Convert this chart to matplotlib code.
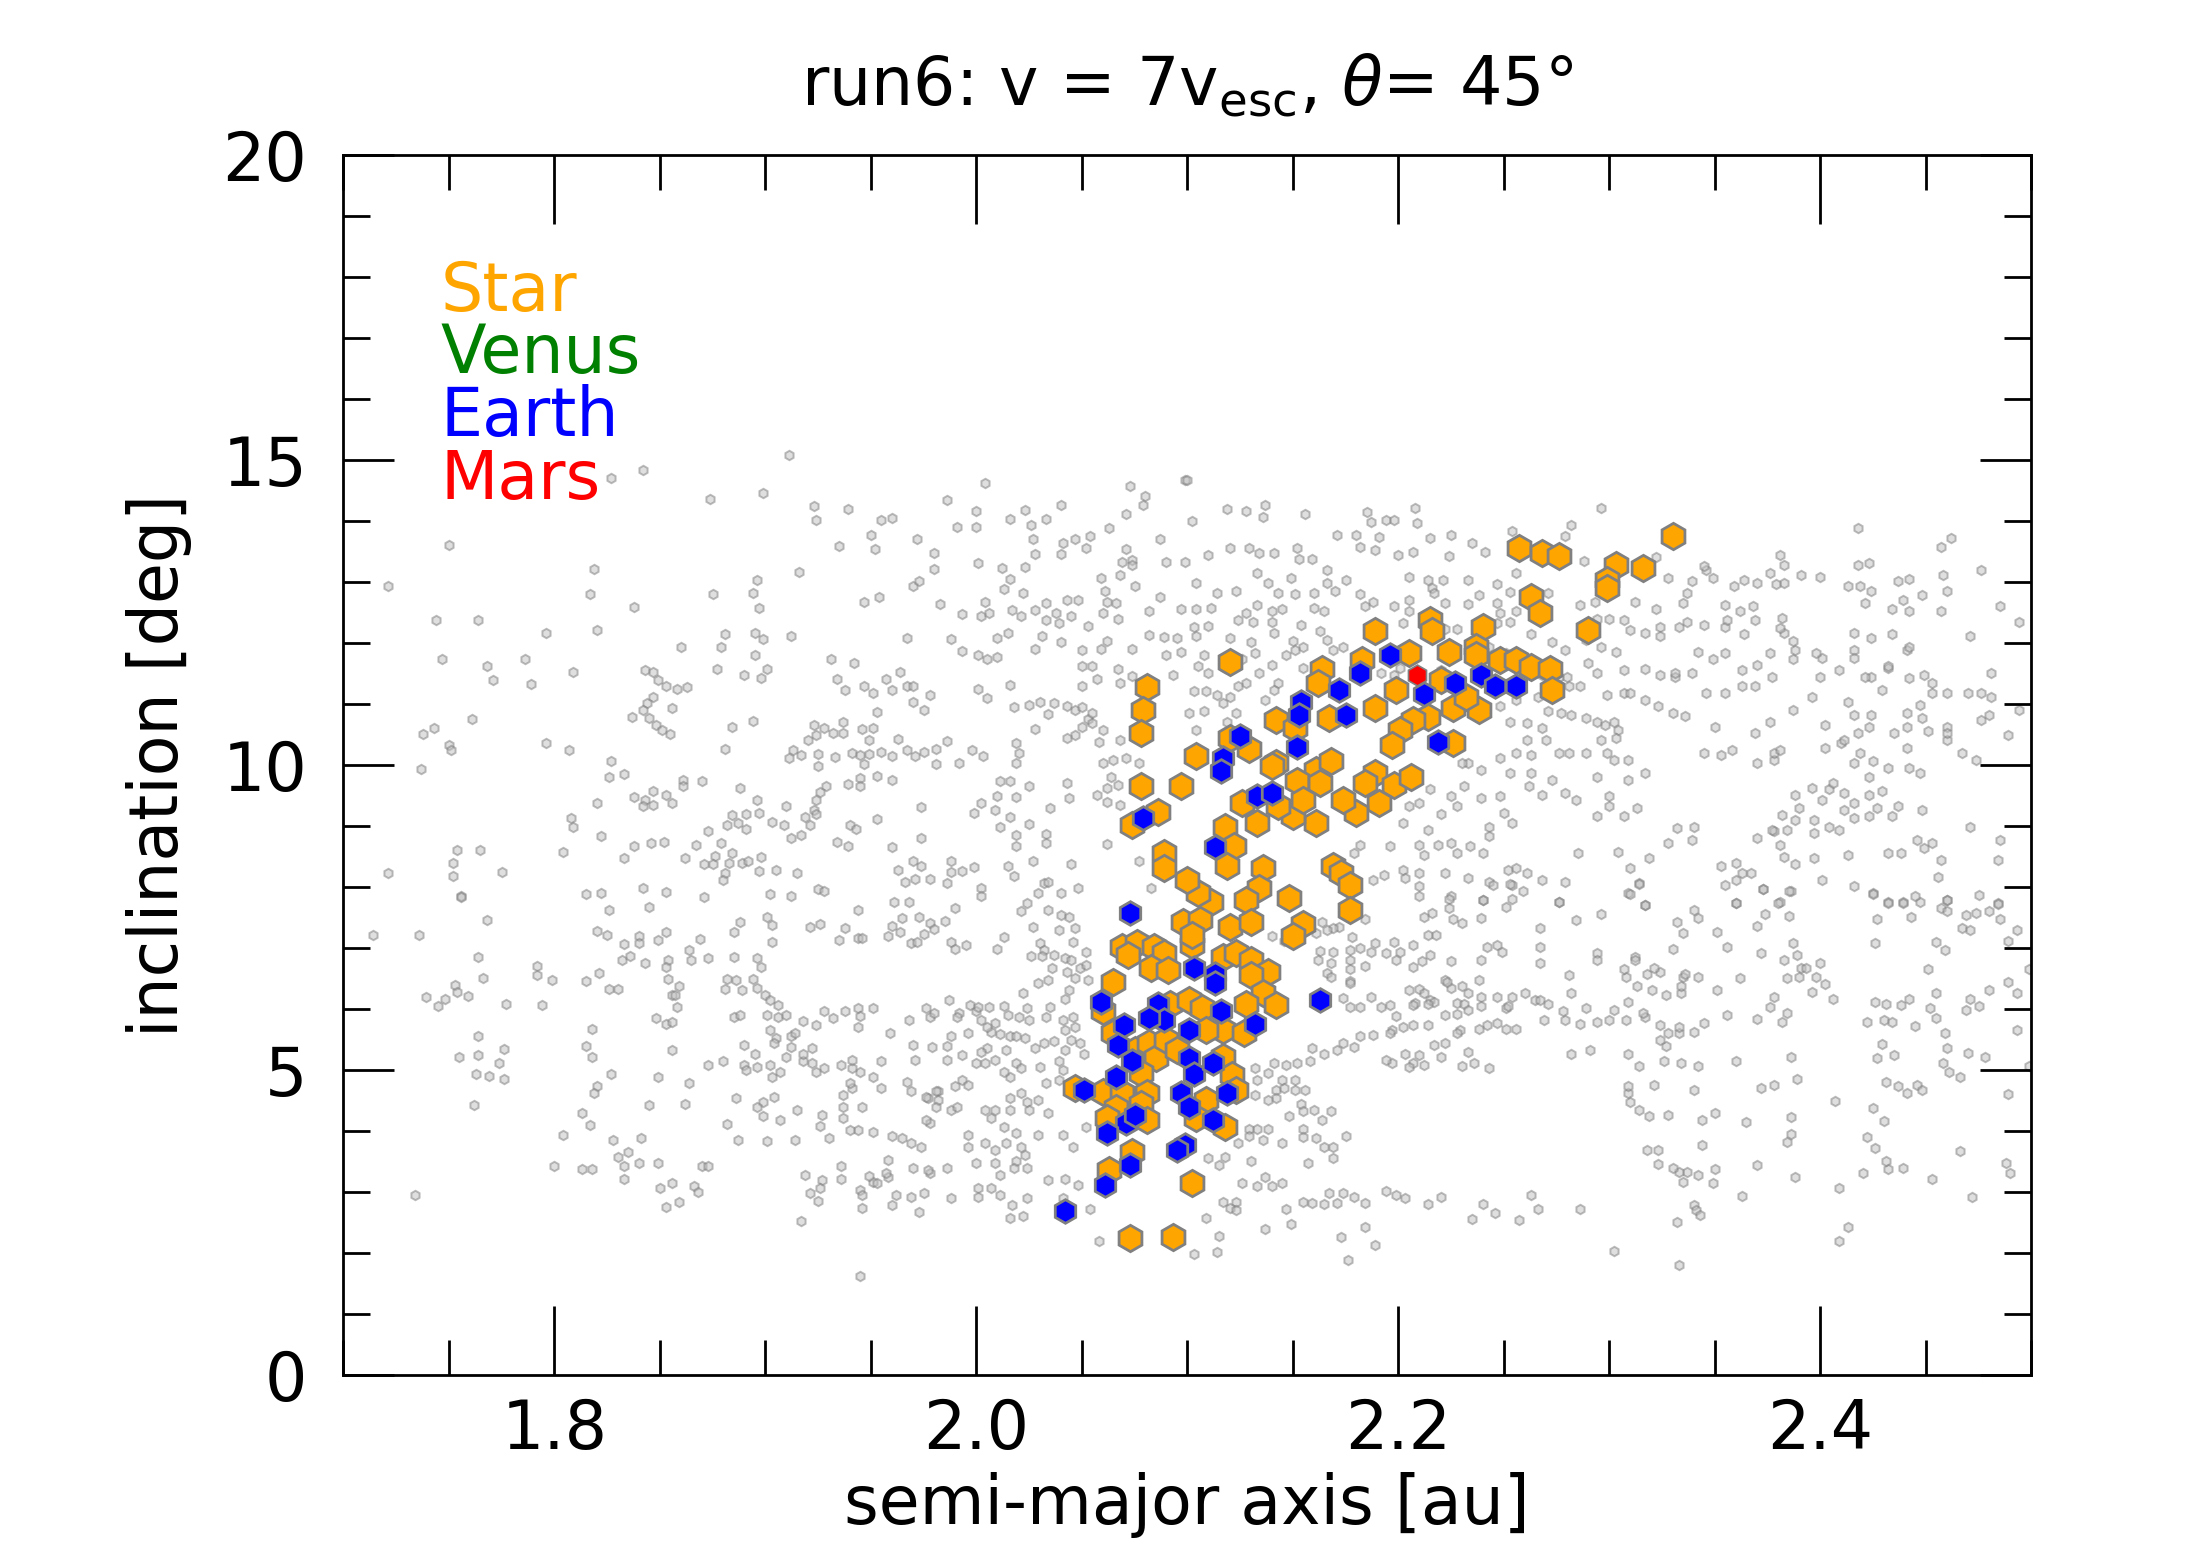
import numpy as np
import matplotlib
matplotlib.use("Agg")
import matplotlib.pyplot as plt
from matplotlib.ticker import MultipleLocator, FormatStrFormatter

# --- hexagon markers: (semi-major axis [au], inclination [deg]) ---
star_pts = [
    (2.257, 13.55), (2.268, 13.47), (2.276, 13.42), (2.303, 13.28), (2.299, 13.03),
    (2.299, 12.90), (2.316, 13.23), (2.330, 13.75), (2.263, 12.76), (2.267, 12.49),
    (2.290, 12.21), (2.189, 12.19), (2.215, 12.38), (2.216, 12.19), (2.240, 12.27),
    (2.224, 11.86), (2.237, 11.94), (2.237, 11.80), (2.248, 11.72), (2.256, 11.72),
    (2.263, 11.61), (2.272, 11.58), (2.273, 11.23), (2.205, 11.83), (2.183, 11.72),
    (2.120, 11.69), (2.164, 11.58), (2.162, 11.34), (2.081, 11.28), (2.079, 10.90),
    (2.078, 10.52), (2.142, 10.74), (2.167, 10.77), (2.189, 10.93), (2.199, 11.23),
    (2.220, 11.39), (2.226, 10.93), (2.238, 10.90), (2.232, 11.12), (2.214, 10.79),
    (2.207, 10.74), (2.201, 10.57), (2.197, 10.33), (2.226, 10.36), (2.120, 10.44),
    (2.129, 10.27), (2.104, 10.14), (2.097, 9.65), (2.142, 10.03), (2.151, 10.60),
    (2.140, 9.98), (2.161, 9.92), (2.168, 10.06), (2.152, 9.73), (2.163, 9.70),
    (2.189, 9.87), (2.198, 9.68), (2.206, 9.81), (2.184, 9.70), (2.078, 9.65),
    (2.191, 9.38), (2.180, 9.21), (2.174, 9.43), (2.161, 9.05), (2.150, 9.16),
    (2.155, 9.43), (2.143, 9.32), (2.133, 9.05), (2.126, 9.38), (2.118, 8.99),
    (2.122, 8.67), (2.119, 8.34), (2.136, 8.31), (2.134, 7.98), (2.169, 8.34),
    (2.173, 8.23), (2.177, 8.04), (2.148, 7.82), (2.128, 7.79), (2.111, 7.76),
    (2.105, 7.90), (2.100, 8.12), (2.074, 9.02), (2.086, 9.23), (2.089, 8.55),
    (2.089, 8.31), (2.098, 7.43), (2.106, 7.46), (2.120, 7.35), (2.130, 7.43),
    (2.102, 7.05), (2.102, 7.21), (2.155, 7.40), (2.150, 7.19), (2.177, 7.62),
    (2.069, 7.02), (2.076, 7.08), (2.072, 6.89), (2.084, 7.02), (2.089, 6.91),
    (2.083, 6.67), (2.091, 6.64), (2.065, 6.45), (2.117, 6.86), (2.123, 6.91),
    (2.130, 6.80), (2.138, 6.61), (2.130, 6.56), (2.136, 6.26), (2.142, 6.07),
    (2.060, 5.96), (2.092, 6.09), (2.101, 6.15), (2.107, 6.01), (2.128, 6.09),
    (2.117, 5.66), (2.127, 5.60), (2.109, 5.66), (2.065, 5.60), (2.075, 5.33),
    (2.082, 5.44), (2.085, 5.19), (2.090, 5.49), (2.095, 5.33), (2.047, 4.70),
    (2.060, 4.64), (2.069, 4.62), (2.078, 4.95), (2.081, 4.62), (2.117, 5.22),
    (2.121, 4.92), (2.123, 4.67), (2.109, 4.51), (2.078, 4.45), (2.066, 4.37),
    (2.062, 4.21), (2.081, 4.18), (2.104, 4.21), (2.118, 4.07), (2.074, 3.66),
    (2.063, 3.36), (2.102, 3.14), (2.073, 2.24), (2.093, 2.26),
]

earth_pts = [
    (2.196, 11.81), (2.182, 11.51), (2.172, 11.23), (2.154, 11.04), (2.153, 10.82),
    (2.175, 10.82), (2.212, 11.17), (2.227, 11.34), (2.239, 11.48), (2.246, 11.29),
    (2.256, 11.29), (2.125, 10.47), (2.152, 10.30), (2.117, 10.11), (2.116, 9.90),
    (2.219, 10.37), (2.133, 9.49), (2.140, 9.54), (2.079, 9.13), (2.113, 8.66),
    (2.073, 7.57), (2.103, 6.67), (2.113, 6.58), (2.113, 6.43), (2.163, 6.15),
    (2.059, 6.12), (2.086, 6.09), (2.089, 5.82), (2.082, 5.85), (2.116, 5.96),
    (2.132, 5.76), (2.101, 5.66), (2.070, 5.74), (2.067, 5.41), (2.074, 5.14),
    (2.066, 4.89), (2.051, 4.67), (2.101, 5.19), (2.103, 4.94), (2.112, 5.11),
    (2.119, 4.62), (2.097, 4.62), (2.101, 4.40), (2.071, 4.13), (2.075, 4.26),
    (2.062, 3.96), (2.112, 4.18), (2.099, 3.77), (2.095, 3.69), (2.073, 3.44),
    (2.061, 3.12), (2.042, 2.69),
]

mars_pts = [(2.209, 11.47)]

# --- background particles (grey), read region by region ---
bg_upper_left = [
    (1.911, 15.09), (1.842, 14.83), (1.827, 14.71), (2.004, 14.62), (1.874, 14.36),
    (1.899, 14.46), (1.923, 14.25), (1.939, 14.19), (1.924, 14.02), (1.986, 14.35),
    (2.000, 14.17), (2.016, 14.04), (2.023, 14.18), (2.033, 14.03), (2.040, 14.27),
    (1.955, 14.02), (1.960, 14.05), (1.991, 13.91), (2.000, 13.90), (2.026, 13.94),
    (2.073, 14.57), (2.080, 14.41), (2.079, 14.26), (2.071, 14.11), (2.063, 13.88),
    (2.087, 13.71), (2.099, 14.68), (1.750, 13.60), (1.935, 13.59), (1.950, 13.77),
    (1.952, 13.54), (1.972, 13.71), (1.980, 13.47), (2.027, 13.71), (2.028, 13.46),
    (2.041, 13.64), (2.047, 13.70), (2.054, 13.75), (2.052, 13.56), (2.040, 13.46),
    (2.071, 13.54), (2.069, 13.33), (2.074, 13.36), (2.074, 13.28), (2.090, 13.33),
    (2.099, 13.33), (1.819, 13.21), (1.721, 12.93), (1.817, 12.81), (1.838, 12.59),
    (1.875, 12.81), (1.896, 13.04), (1.894, 12.82), (1.897, 12.57), (1.916, 13.17),
    (1.947, 12.67), (1.954, 12.75), (1.970, 12.93), (1.973, 13.01), (1.980, 13.22),
    (2.001, 13.32), (2.012, 13.23), (2.023, 13.24), (2.016, 13.05), (2.013, 12.88),
    (2.022, 12.82), (1.983, 12.64), (2.004, 12.68), (1.993, 12.48), (2.002, 12.45),
    (2.006, 12.50), (2.017, 12.54), (2.021, 12.44), (2.028, 12.54), (2.033, 12.65),
    (2.043, 12.71), (2.048, 12.70), (2.038, 12.50), (2.045, 12.45), (2.033, 12.38),
    (2.039, 12.33), (2.059, 13.07), (2.061, 12.86), (2.068, 13.12), (2.075, 12.93),
    (2.062, 12.67), (2.066, 12.66), (2.060, 12.50), (2.067, 12.39), (2.053, 12.28),
    (2.082, 12.52), (2.087, 12.76), (2.097, 12.55), (1.744, 12.38), (1.764, 12.37),
    (1.796, 12.17), (1.820, 12.21), (1.747, 11.73), (1.768, 11.63), (1.771, 11.39),
    (1.786, 11.73), (1.789, 11.32), (1.809, 11.52), (1.860, 11.94), (1.879, 11.94),
    (1.881, 12.14), (1.895, 12.16), (1.899, 12.07), (1.895, 11.81), (1.912, 12.12),
    (1.843, 11.56), (1.847, 11.53), (1.849, 11.40), (1.853, 11.29), (1.858, 11.25),
    (1.863, 11.28), (1.877, 11.57), (1.890, 11.48), (1.898, 11.42), (1.901, 11.57),
    (1.931, 11.73), (1.942, 11.68), (1.967, 12.09), (1.988, 12.07), (1.993, 11.87),
    (2.001, 11.81), (2.005, 11.73), (2.010, 11.77), (2.010, 12.08), (2.015, 12.16),
    (2.031, 12.11), (2.040, 12.01), (2.028, 11.91), (2.050, 11.88), (2.055, 11.62),
    (2.062, 12.04), (2.059, 11.90), (2.074, 11.91), (2.082, 12.13), (2.089, 12.10),
    (2.095, 12.08), (2.090, 11.81), (2.097, 11.85), (2.050, 11.62), (2.067, 11.57),
    (2.074, 11.46), (2.057, 11.41), (2.068, 11.35), (2.050, 11.29), (2.093, 11.48),
    (1.934, 11.41), (1.938, 11.23), (1.947, 11.30), (1.951, 11.18), (1.957, 11.41),
    (1.964, 11.53), (1.960, 11.23), (1.967, 11.29), (1.970, 11.29), (1.978, 11.14),
    (1.970, 11.03), (2.001, 11.24), (2.016, 11.31), (2.005, 11.10), (1.975, 10.91),
    (1.953, 10.87), (1.847, 11.12), (1.844, 11.01), (1.856, 10.93), (1.842, 10.90),
    (1.837, 10.79), (1.845, 10.77), (1.848, 10.66), (1.851, 10.57), (1.855, 10.51),
    (1.761, 10.75), (1.738, 10.51), (1.743, 10.61), (1.750, 10.33), (1.751, 10.25),
    (1.737, 9.93), (1.796, 10.36), (1.807, 10.24), (1.827, 10.07), (1.826, 9.81),
    (1.833, 9.85), (1.884, 10.63), (1.894, 10.72), (1.881, 10.26), (1.913, 10.25),
    (1.911, 10.11), (1.917, 10.16), (1.923, 10.65), (1.924, 10.50), (1.920, 10.41),
    (1.928, 10.61), (1.932, 10.52), (1.937, 10.52), (1.937, 10.71), (1.946, 10.59),
    (1.951, 10.61), (1.949, 10.41), (1.925, 10.18), (1.925, 9.98), (1.933, 10.13),
    (1.941, 10.20), (1.945, 10.17), (1.947, 10.01), (1.949, 10.18), (1.955, 10.21),
    (1.960, 10.14), (1.967, 10.25), (1.971, 10.14), (1.975, 10.22), (1.981, 10.26),
    (1.986, 10.40), (1.981, 10.01), (1.992, 10.03), (1.998, 10.25), (2.003, 10.14),
    (1.963, 10.42), (2.019, 10.36), (2.020, 10.19), (2.019, 10.03), (2.028, 10.59),
    (2.018, 10.95), (2.025, 10.99), (2.030, 11.04), (2.034, 10.83), (2.037, 11.01),
    (2.043, 10.96), (2.047, 10.91), (2.050, 10.95), (2.053, 10.75), (2.055, 10.85),
    (2.055, 10.69), (2.050, 10.63), (2.047, 10.50), (2.043, 10.44), (2.060, 10.57),
    (2.058, 10.37), (2.068, 10.41), (2.060, 10.03), (2.065, 10.08), (2.071, 10.11),
    (2.077, 10.03), (2.064, 9.81), (2.062, 9.62), (2.067, 9.68), (2.057, 9.51),
    (2.062, 9.39), (2.068, 9.35), (2.043, 9.71), (2.044, 9.46), (2.025, 9.66),
    (2.011, 9.73), (2.016, 9.73), (2.010, 9.50), (2.019, 9.47), (2.002, 9.37),
    (1.999, 9.21), (2.009, 9.26), (2.016, 9.14), (2.025, 9.03), (2.035, 9.29),
    (2.011, 8.99), (2.019, 8.86), (2.033, 8.87), (2.019, 8.68), (2.033, 8.72),
    (1.974, 9.31), (1.953, 9.11), (1.974, 8.81), (1.960, 8.65), (1.939, 9.69),
    (1.945, 9.79), (1.953, 9.82), (1.960, 9.75), (1.945, 9.65), (1.929, 9.66),
    (1.926, 9.55), (1.924, 9.43), (1.923, 9.27), (1.924, 9.19), (1.919, 9.14),
    (1.921, 9.02), (1.917, 8.86), (1.912, 8.81), (1.910, 9.32), (1.896, 9.42),
    (1.897, 9.21), (1.891, 9.19), (1.884, 9.18), (1.887, 9.05), (1.882, 9.01),
    (1.891, 8.95), (1.903, 9.06), (1.909, 9.01), (1.888, 9.62), (1.870, 9.74),
    (1.861, 9.76), (1.861, 9.65), (1.847, 9.58), (1.838, 9.47), (1.843, 9.43),
    (1.842, 9.32), (1.847, 9.35), (1.853, 9.51), (1.856, 9.38), (1.820, 9.38),
    (1.808, 9.13), (1.809, 8.98), (1.822, 8.84), (1.838, 8.68), (1.846, 8.72),
    (1.852, 8.73), (1.867, 8.69), (1.873, 8.92), (1.879, 8.72), (1.876, 8.51),
    (1.884, 8.55), (1.883, 8.39), (1.889, 8.39), (1.892, 8.42), (1.898, 8.50),
    (1.871, 8.37), (1.875, 8.37), (1.862, 8.47), (1.833, 8.47), (1.804, 8.57),
    (1.754, 8.60), (1.765, 8.61), (1.752, 8.39), (1.752, 8.18), (1.721, 8.23),
    (1.775, 8.24), (1.756, 7.85), (1.881, 8.23), (1.880, 8.12), (1.897, 8.27),
    (1.905, 8.28), (1.915, 8.23), (1.934, 8.73), (1.939, 8.67), (1.940, 9.01),
    (1.943, 8.95), (1.970, 8.42), (1.974, 8.35), (1.963, 8.28), (1.966, 8.09),
    (1.971, 8.13), (1.978, 8.13), (1.988, 8.42), (1.988, 8.24), (1.993, 8.26),
    (1.999, 8.32), (1.986, 8.07), (2.015, 8.35), (2.018, 8.18), (2.027, 8.42),
    (2.002, 7.98), (2.032, 8.07), (2.034, 8.09), (2.045, 8.37), (2.048, 7.99),
    (2.040, 7.90), (2.029, 7.90), (2.002, 7.85), (1.961, 7.76), (1.968, 7.76),
    (1.925, 7.96), (1.928, 7.93), (1.912, 7.85), (1.902, 7.88), (1.871, 7.84),
    (1.853, 7.91), (1.842, 7.98), (1.822, 7.90), (1.815, 7.88), (2.062, 8.71),
    (2.077, 8.42), (2.083, 7.99),
]

bg_upper_right = [
    (2.100, 14.68), (2.119, 14.20), (2.128, 14.17), (2.137, 14.26), (2.136, 14.06),
    (2.156, 14.12), (2.185, 14.15), (2.208, 14.22), (2.296, 14.21), (2.102, 14.00),
    (2.187, 13.98), (2.194, 14.01), (2.198, 14.01), (2.209, 13.97), (2.171, 13.77),
    (2.180, 13.77), (2.191, 13.74), (2.215, 13.72), (2.225, 13.77), (2.235, 13.64),
    (2.254, 13.83), (2.282, 13.94), (2.279, 13.76), (2.120, 13.55), (2.129, 13.55),
    (2.134, 13.47), (2.141, 13.47), (2.152, 13.56), (2.159, 13.38), (2.153, 13.38),
    (2.182, 13.58), (2.189, 13.53), (2.200, 13.45), (2.207, 13.49), (2.224, 13.42),
    (2.241, 13.50), (2.110, 13.44), (2.288, 13.35), (2.322, 13.41), (2.133, 13.15),
    (2.149, 13.06), (2.166, 13.19), (2.175, 13.04), (2.205, 13.09), (2.214, 13.03),
    (2.221, 13.04), (2.233, 13.04), (2.256, 13.14), (2.104, 12.98), (2.114, 12.82),
    (2.123, 12.85), (2.138, 12.98), (2.143, 12.82), (2.151, 12.80), (2.160, 12.82),
    (2.166, 12.98), (2.170, 12.86), (2.182, 12.81), (2.188, 12.67), (2.198, 12.61),
    (2.205, 12.71), (2.216, 12.90), (2.217, 12.82), (2.222, 12.65), (2.238, 12.79),
    (2.247, 12.96), (2.247, 12.65), (2.253, 12.83), (2.271, 12.82), (2.104, 12.55),
    (2.111, 12.57), (2.128, 12.50), (2.133, 12.63), (2.140, 12.52), (2.145, 12.55),
    (2.160, 12.57), (2.165, 12.52), (2.184, 12.60), (2.205, 12.52), (2.233, 12.64),
    (2.248, 12.49), (2.256, 12.52), (2.103, 12.27), (2.110, 12.28), (2.124, 12.38),
    (2.131, 12.35), (2.140, 12.34), (2.154, 12.30), (2.163, 12.19), (2.202, 12.32),
    (2.222, 12.23), (2.228, 12.23), (2.247, 12.33), (2.253, 12.35), (2.294, 12.39),
    (2.300, 12.39), (2.307, 12.38), (2.310, 12.22), (2.317, 12.16), (2.324, 12.26),
    (2.286, 12.63), (2.293, 12.68), (2.312, 12.68), (2.322, 12.55), (2.104, 12.11),
    (2.120, 12.08), (2.130, 12.01), (2.141, 12.16), (2.150, 12.03), (2.155, 11.94),
    (2.166, 12.05), (2.169, 11.89), (2.174, 11.94), (2.243, 11.94), (2.251, 11.83),
    (2.263, 12.14), (2.273, 12.01), (2.279, 11.89), (2.289, 12.05), (2.296, 11.94),
    (2.303, 11.86), (2.108, 11.81), (2.132, 11.83), (2.140, 11.64), (2.147, 11.81),
    (2.151, 11.89), (2.155, 11.59), (2.126, 11.73), (2.105, 11.62), (2.110, 11.51),
    (2.118, 11.59), (2.134, 11.51), (2.143, 11.34), (2.128, 11.34), (2.124, 11.29),
    (2.103, 11.21), (2.109, 11.21), (2.114, 11.15), (2.120, 11.12), (2.117, 11.01),
    (2.123, 10.85), (2.119, 10.71), (2.108, 10.88), (2.101, 10.85), (2.104, 10.58),
    (2.137, 11.07), (2.141, 11.23), (2.192, 11.51), (2.198, 11.48), (2.201, 11.59),
    (2.220, 11.56), (2.268, 11.48), (2.276, 11.45), (2.280, 11.45), (2.281, 11.29),
    (2.286, 11.29), (2.290, 11.67), (2.294, 11.51), (2.299, 11.15), (2.307, 11.18),
    (2.310, 11.18), (2.317, 11.07), (2.324, 11.48), (2.331, 11.45), (2.339, 11.51),
    (2.317, 11.57), (2.307, 11.56), (2.248, 10.96), (2.256, 11.07), (2.266, 11.12),
    (2.271, 10.88), (2.277, 10.85), (2.282, 10.82), (2.289, 10.77), (2.294, 10.71),
    (2.298, 10.66), (2.302, 10.71), (2.304, 10.58), (2.296, 10.41), (2.303, 10.44),
    (2.253, 10.71), (2.261, 10.69), (2.268, 10.61), (2.270, 10.41), (2.261, 10.41),
    (2.263, 10.17), (2.256, 10.19), (2.248, 10.11), (2.239, 9.92), (2.233, 10.03),
    (2.253, 9.87), (2.263, 9.87), (2.273, 9.76), (2.279, 9.54), (2.276, 10.19),
    (2.281, 10.19), (2.289, 10.19), (2.299, 10.19), (2.309, 10.08), (2.302, 10.08),
    (2.294, 9.81), (2.300, 9.49), (2.300, 9.32), (2.309, 9.76), (2.317, 9.87),
    (2.313, 9.29), (2.307, 9.16), (2.294, 9.16), (2.284, 9.43), (2.268, 9.51),
    (2.262, 9.65), (2.248, 9.49), (2.239, 9.46), (2.228, 9.32), (2.220, 9.19),
    (2.225, 9.49), (2.210, 9.38), (2.205, 9.32), (2.215, 9.60), (2.230, 10.03),
    (2.231, 9.65), (2.250, 9.21), (2.243, 8.99), (2.254, 9.05), (2.214, 8.94),
    (2.202, 9.05), (2.196, 8.67), (2.182, 8.69), (2.210, 8.69), (2.219, 8.69),
    (2.225, 8.72), (2.234, 8.67), (2.240, 8.56), (2.243, 8.83), (2.228, 8.56),
    (2.212, 8.53), (2.179, 8.56), (2.193, 8.20), (2.188, 8.12), (2.202, 8.28),
    (2.210, 8.23), (2.222, 8.23), (2.233, 8.15), (2.210, 8.01), (2.203, 8.15),
    (2.243, 8.09), (2.252, 8.28), (2.256, 8.31), (2.261, 8.23), (2.268, 8.12),
    (2.279, 8.09), (2.254, 8.04), (2.259, 7.93), (2.240, 7.79), (2.225, 7.85),
    (2.276, 7.76), (2.285, 8.56), (2.304, 8.58), (2.319, 8.47), (2.332, 8.97),
    (2.339, 8.77), (2.328, 8.72), (2.340, 8.99), (2.310, 8.31), (2.314, 8.06),
    (2.309, 7.90), (2.317, 7.71), (2.353, 8.34), (2.360, 8.39), (2.363, 8.23),
    (2.367, 8.23), (2.360, 8.12), (2.355, 8.04), (2.373, 7.96), (2.383, 8.50),
    (2.388, 8.37), (2.397, 8.47), (2.386, 7.93), (2.381, 7.76), (2.360, 7.74),
    (2.370, 8.80), (2.378, 8.91), (2.384, 8.94), (2.381, 8.69), (2.397, 8.88),
    (2.397, 9.10), (2.404, 8.99), (2.409, 8.94), (2.411, 9.27), (2.416, 9.13),
    (2.423, 9.16), (2.427, 9.29), (2.434, 9.16), (2.437, 9.32), (2.448, 9.27),
    (2.401, 9.43), (2.404, 9.60), (2.406, 9.70), (2.411, 9.54), (2.416, 9.38),
    (2.396, 9.62), (2.423, 9.51), (2.429, 9.57), (2.423, 9.81), (2.416, 10.03),
    (2.425, 10.06), (2.432, 9.95), (2.442, 9.95), (2.447, 9.87), (2.388, 9.51),
    (2.390, 9.29), (2.382, 9.18), (2.388, 9.10), (2.377, 8.94), (2.413, 8.53),
    (2.432, 8.56), (2.438, 8.56), (2.446, 8.77), (2.453, 8.72), (2.457, 8.45),
    (2.449, 8.64), (2.471, 8.99), (2.485, 8.77), (2.484, 8.45), (2.456, 8.17),
    (2.425, 7.90), (2.432, 7.76), (2.439, 7.76), (2.447, 7.76), (2.460, 7.79),
    (2.475, 7.87), (2.484, 7.74), (2.401, 8.12), (2.416, 8.01), (2.345, 10.19),
    (2.353, 10.17), (2.358, 10.25), (2.370, 10.03), (2.378, 10.08), (2.378, 10.19),
    (2.381, 10.25), (2.402, 10.28), (2.410, 10.36), (2.419, 10.19), (2.441, 10.28),
    (2.460, 10.41), (2.467, 10.19), (2.474, 10.08), (2.489, 10.50), (2.476, 10.74),
    (2.480, 10.82), (2.460, 10.63), (2.451, 10.55), (2.441, 10.63), (2.435, 10.52),
    (2.423, 10.63), (2.418, 10.52), (2.411, 10.41), (2.402, 10.66), (2.416, 10.82),
    (2.424, 10.82), (2.441, 10.85), (2.447, 10.99), (2.448, 10.77), (2.460, 10.52),
    (2.369, 10.52), (2.376, 10.71), (2.350, 10.63), (2.336, 10.80), (2.330, 10.85),
    (2.323, 10.96), (2.346, 11.18), (2.355, 11.18), (2.363, 11.29), (2.369, 11.29),
    (2.377, 11.45), (2.387, 10.91), (2.396, 11.12), (2.413, 11.04), (2.429, 11.23),
    (2.424, 11.45), (2.400, 11.45), (2.409, 11.56), (2.421, 11.45), (2.432, 11.59),
    (2.442, 11.42), (2.449, 11.48), (2.453, 11.34), (2.453, 11.18), (2.460, 11.18),
    (2.470, 11.18), (2.476, 11.18), (2.481, 11.12), (2.481, 11.51), (2.494, 10.91),
    (2.441, 11.89), (2.442, 11.94), (2.432, 11.62), (2.416, 11.89), (2.416, 11.75),
    (2.401, 11.75), (2.398, 11.83), (2.387, 11.73), (2.388, 11.89), (2.376, 11.83),
    (2.370, 11.64), (2.363, 11.56), (2.355, 11.83), (2.349, 11.73), (2.342, 11.86),
    (2.331, 11.51), (2.424, 12.08), (2.434, 12.14), (2.416, 12.16), (2.387, 12.03),
    (2.383, 12.16), (2.364, 12.14), (2.355, 12.27), (2.345, 12.30), (2.333, 12.27),
    (2.324, 12.11), (2.337, 12.35), (2.356, 12.38), (2.382, 12.41), (2.381, 12.24),
    (2.471, 12.12), (2.494, 12.35), (2.457, 12.52), (2.442, 12.52), (2.434, 12.55),
    (2.421, 12.65), (2.439, 12.71), (2.424, 12.85), (2.413, 12.94), (2.419, 12.94),
    (2.437, 13.01), (2.442, 13.05), (2.460, 12.85), (2.458, 13.12), (2.476, 13.20),
    (2.418, 13.28), (2.423, 13.32), (2.418, 13.88), (2.462, 13.72), (2.457, 13.58),
    (2.400, 13.09), (2.391, 13.12), (2.383, 12.98), (2.379, 12.96), (2.376, 13.15),
    (2.370, 12.98), (2.364, 13.04), (2.381, 13.45), (2.383, 13.28), (2.359, 12.93),
    (2.349, 13.06), (2.339, 13.01), (2.346, 13.20), (2.345, 13.26), (2.337, 12.82),
    (2.328, 13.06), (2.335, 12.65), (2.355, 12.63), (2.362, 12.52), (2.368, 12.60),
    (2.369, 12.38), (2.448, 12.79), (2.485, 12.60),
]

bg_lower_left = [
    (1.714, 7.21), (1.736, 7.21), (1.756, 7.84), (1.768, 7.46), (1.764, 6.86),
    (1.766, 6.50), (1.753, 6.39), (1.754, 6.28), (1.759, 6.21), (1.739, 6.19),
    (1.745, 6.05), (1.748, 6.16), (1.777, 6.08), (1.792, 6.71), (1.792, 6.55),
    (1.799, 6.48), (1.794, 6.06), (1.815, 6.46), (1.821, 6.59), (1.826, 6.32),
    (1.830, 6.32), (1.826, 7.63), (1.845, 7.67), (1.820, 7.28), (1.825, 7.22),
    (1.840, 7.20), (1.840, 7.08), (1.833, 7.07), (1.849, 7.13), (1.853, 7.27),
    (1.869, 7.14), (1.885, 7.26), (1.888, 7.43), (1.901, 7.51), (1.903, 7.38),
    (1.903, 7.10), (1.832, 6.80), (1.836, 6.87), (1.843, 6.75), (1.854, 6.81),
    (1.853, 6.69), (1.854, 6.49), (1.859, 6.38), (1.864, 6.96), (1.865, 6.81),
    (1.873, 6.83), (1.885, 6.86), (1.896, 6.83), (1.898, 6.69), (1.882, 6.49),
    (1.886, 6.48), (1.889, 6.31), (1.894, 6.49), (1.881, 6.32), (1.896, 6.34),
    (1.900, 6.23), (1.902, 6.15), (1.906, 6.07), (1.856, 6.23), (1.857, 6.23),
    (1.858, 6.03), (1.848, 5.86), (1.853, 5.75), (1.856, 5.79), (1.885, 5.87),
    (1.888, 5.90), (1.901, 5.90), (1.906, 5.87), (1.910, 5.90), (1.902, 5.66),
    (1.905, 5.53), (1.912, 5.56), (1.914, 5.60), (1.918, 5.81), (1.924, 5.74),
    (1.928, 5.96), (1.932, 5.85), (1.938, 5.96), (1.944, 5.71), (1.944, 6.01),
    (1.945, 5.88), (1.951, 6.01), (1.959, 5.61), (1.968, 5.82), (1.978, 5.87),
    (1.980, 5.93), (1.976, 6.01), (1.921, 7.35), (1.926, 7.39), (1.935, 7.13),
    (1.938, 7.32), (1.944, 7.16), (1.946, 7.16), (1.944, 7.62), (1.960, 7.36),
    (1.964, 7.27), (1.958, 7.19), (1.965, 7.50), (1.973, 7.51), (1.975, 7.23),
    (1.978, 7.41), (1.980, 7.31), (1.985, 7.45), (1.969, 7.08), (1.972, 7.10),
    (1.990, 7.65), (1.988, 7.10), (1.990, 6.99), (1.995, 7.05), (2.013, 7.18),
    (2.010, 6.99), (2.034, 7.63), (2.024, 7.74), (2.021, 7.61), (2.027, 7.35),
    (2.030, 7.08), (2.032, 6.97), (2.039, 7.30), (2.046, 7.10), (2.047, 7.32),
    (2.040, 7.54), (2.044, 7.51), (2.026, 6.87), (2.031, 6.87), (2.037, 6.89),
    (2.042, 6.83), (2.052, 6.94), (2.045, 6.80), (2.036, 6.67), (2.043, 6.61),
    (2.049, 6.67), (2.052, 6.72), (2.047, 6.50), (2.053, 6.48), (2.034, 6.48),
    (2.029, 6.42), (2.022, 6.27), (2.044, 6.31), (2.042, 6.17), (2.035, 6.04),
    (2.033, 5.87), (2.041, 5.82), (2.046, 5.87), (2.047, 5.71), (2.042, 5.66),
    (2.045, 5.49), (2.049, 5.44), (2.051, 5.27), (2.042, 5.33), (2.039, 5.14),
    (2.041, 5.00), (2.039, 4.84), (2.033, 4.78), (2.030, 5.05), (2.028, 5.36),
    (2.032, 5.44), (2.037, 5.47), (2.023, 5.52), (2.016, 5.56), (2.011, 5.59),
    (2.007, 5.63), (2.009, 5.77), (2.005, 5.71), (2.002, 5.82), (2.000, 5.96),
    (1.997, 6.07), (1.992, 5.93), (1.991, 5.87), (1.996, 5.60), (1.987, 6.15),
    (2.001, 6.03), (2.006, 6.04), (2.013, 6.05), (2.024, 6.01), (2.015, 5.90),
    (2.020, 5.87), (2.025, 5.82), (2.019, 5.55), (2.014, 5.33), (2.019, 5.12),
    (2.021, 5.03), (2.016, 4.89), (2.013, 4.97), (2.005, 5.36), (2.002, 5.30),
    (1.993, 5.25), (2.000, 5.12), (2.004, 5.11), (2.009, 5.16), (1.986, 5.16),
    (1.993, 4.84), (1.996, 4.75), (1.990, 4.73), (1.982, 4.65), (1.977, 4.54),
    (1.976, 4.56), (1.969, 4.66), (1.967, 4.81), (1.955, 4.70), (1.955, 5.14),
    (1.971, 5.16), (1.979, 5.38), (1.986, 5.39), (1.988, 5.55), (1.970, 5.41),
    (1.981, 4.65), (1.982, 4.51), (1.988, 4.35), (1.991, 4.40), (2.004, 4.35),
    (2.007, 4.21), (2.013, 4.07), (2.009, 4.35), (2.016, 4.54), (2.024, 4.48),
    (2.025, 4.35), (2.016, 4.35), (2.021, 4.62), (2.029, 4.51), (2.034, 4.29),
    (2.029, 3.93), (2.019, 3.97), (2.014, 3.80), (2.021, 3.74), (2.023, 3.61),
    (2.019, 3.50), (2.024, 3.39), (2.018, 3.39), (2.041, 3.93), (2.046, 3.74),
    (2.052, 4.07), (1.996, 3.93), (2.004, 3.80), (2.000, 3.47), (2.009, 3.47),
    (2.011, 3.28), (2.007, 3.06), (2.001, 3.06), (2.001, 2.92), (2.011, 2.95),
    (2.017, 2.79), (2.024, 2.90), (2.034, 3.20), (2.042, 3.22), (2.048, 3.12),
    (2.041, 2.90), (2.016, 2.57), (2.022, 2.60), (2.054, 2.72), (2.058, 2.19),
    (1.986, 3.39), (1.978, 3.31), (1.977, 3.36), (1.970, 3.39), (1.975, 2.99),
    (1.969, 2.92), (1.962, 2.95), (1.960, 2.79), (1.988, 2.90), (1.973, 2.68),
    (1.958, 3.24), (1.957, 3.31), (1.951, 3.17), (1.953, 3.14), (1.949, 3.27),
    (1.945, 3.03), (1.946, 2.95), (1.946, 2.73), (1.936, 3.43), (1.936, 3.21),
    (1.927, 3.20), (1.926, 3.06), (1.921, 2.98), (1.925, 2.86), (1.919, 3.28),
    (1.917, 2.53), (1.945, 1.62), (1.960, 3.91), (1.965, 3.88), (1.969, 3.80),
    (1.974, 3.74), (1.958, 3.52), (1.951, 3.99), (1.944, 4.02), (1.940, 4.02),
    (1.930, 3.88), (1.914, 3.85), (1.901, 3.84), (1.887, 3.86), (1.882, 4.11),
    (1.926, 4.08), (1.927, 4.26), (1.937, 4.21), (1.937, 4.40), (1.946, 4.40),
    (1.937, 4.59), (1.941, 4.70), (1.940, 4.78), (1.951, 4.89), (1.945, 4.97),
    (1.941, 5.03), (1.936, 5.08), (1.941, 5.16), (1.928, 5.03), (1.924, 4.97),
    (1.922, 5.11), (1.918, 5.14), (1.918, 5.27), (1.922, 5.36), (1.910, 5.22),
    (1.907, 4.97), (1.903, 4.89), (1.902, 5.08), (1.896, 5.05), (1.890, 5.08),
    (1.891, 5.00), (1.880, 5.14), (1.873, 5.08), (1.890, 5.41), (1.895, 5.27),
    (1.904, 5.44), (1.912, 5.38), (1.904, 4.56), (1.899, 4.48), (1.896, 4.40),
    (1.899, 4.24), (1.907, 4.18), (1.915, 4.34), (1.886, 4.54), (1.864, 4.78),
    (1.862, 4.44), (1.845, 4.43), (1.849, 4.88), (1.827, 4.93), (1.820, 4.74),
    (1.819, 4.62), (1.813, 4.29), (1.817, 4.10), (1.804, 3.93), (1.828, 3.86),
    (1.841, 3.88), (1.835, 3.65), (1.830, 3.57), (1.833, 3.42), (1.840, 3.47),
    (1.849, 3.47), (1.833, 3.22), (1.813, 3.38), (1.818, 3.38), (1.800, 3.42),
    (1.850, 3.06), (1.856, 3.14), (1.853, 2.76), (1.859, 2.84), (1.866, 3.09),
    (1.868, 3.00), (1.870, 3.42), (1.873, 3.43), (1.762, 4.42), (1.763, 4.93),
    (1.769, 4.90), (1.776, 4.85), (1.774, 5.12), (1.764, 5.25), (1.755, 5.22),
    (1.764, 5.56), (1.776, 5.34), (1.734, 2.95), (1.818, 5.68), (1.815, 5.40),
    (1.818, 5.22), (1.856, 5.33), (1.978, 4.13), (1.976, 4.18), (1.981, 4.40),
    (1.996, 3.74), (2.009, 3.69),
]

bg_lower_right = [
    (2.184, 7.47), (2.164, 7.43), (2.172, 7.35), (2.169, 7.32), (2.166, 7.30),
    (2.161, 7.24), (2.140, 7.19), (2.178, 7.18), (2.146, 7.12), (2.163, 6.95),
    (2.169, 6.94), (2.177, 6.97), (2.182, 7.00), (2.189, 7.08), (2.198, 7.10),
    (2.207, 7.05), (2.194, 6.92), (2.201, 6.94), (2.187, 6.94), (2.162, 6.80),
    (2.168, 6.75), (2.177, 6.80), (2.184, 6.71), (2.199, 6.80), (2.207, 6.69),
    (2.211, 6.78), (2.215, 6.89), (2.225, 6.78), (2.166, 6.59), (2.168, 6.53),
    (2.177, 6.65), (2.177, 6.46), (2.177, 6.42), (2.174, 6.18), (2.177, 6.04),
    (2.182, 6.04), (2.187, 6.19), (2.192, 6.04), (2.196, 6.06), (2.199, 5.89),
    (2.205, 6.31), (2.210, 6.32), (2.212, 6.26), (2.215, 6.15), (2.208, 6.10),
    (2.207, 6.07), (2.222, 6.48), (2.225, 6.34), (2.233, 6.26), (2.239, 6.19),
    (2.239, 6.05), (2.228, 6.10), (2.231, 6.09), (2.217, 6.12), (2.214, 6.09),
    (2.222, 5.90), (2.228, 5.92), (2.233, 5.98), (2.247, 6.19), (2.251, 6.01),
    (2.252, 6.05), (2.254, 6.19), (2.260, 6.26), (2.265, 6.14), (2.267, 6.14),
    (2.271, 6.09), (2.242, 5.74), (2.247, 5.77), (2.251, 5.68), (2.256, 5.68),
    (2.229, 5.66), (2.238, 5.67), (2.228, 5.60), (2.222, 5.45), (2.217, 5.41),
    (2.210, 5.25), (2.207, 5.12), (2.205, 5.05), (2.212, 5.08), (2.220, 5.22),
    (2.233, 5.30), (2.236, 5.11), (2.243, 5.03), (2.230, 5.07), (2.197, 5.11),
    (2.194, 5.16), (2.203, 5.27), (2.202, 5.71), (2.207, 5.74), (2.214, 5.74),
    (2.197, 5.66), (2.196, 5.60), (2.188, 5.57), (2.182, 5.55), (2.179, 5.38),
    (2.174, 5.44), (2.171, 5.33), (2.165, 5.27), (2.159, 5.36), (2.158, 5.14),
    (2.152, 5.12), (2.147, 5.08), (2.141, 5.12), (2.132, 5.03), (2.138, 4.95),
    (2.145, 4.84), (2.151, 4.84), (2.133, 4.84), (2.142, 4.67), (2.146, 4.70),
    (2.151, 4.67), (2.156, 4.67), (2.142, 4.54), (2.138, 4.51), (2.132, 4.59),
    (2.154, 4.45), (2.155, 4.32), (2.160, 4.34), (2.168, 4.32), (2.164, 4.18),
    (2.148, 4.24), (2.133, 4.04), (2.138, 4.04), (2.129, 4.04), (2.136, 3.85),
    (2.129, 3.91), (2.124, 3.80), (2.145, 3.80), (2.155, 4.04), (2.155, 3.90),
    (2.161, 3.88), (2.165, 3.74), (2.169, 3.74), (2.175, 3.91), (2.169, 3.55),
    (2.157, 3.47), (2.130, 3.50), (2.118, 3.58), (2.110, 3.55), (2.115, 3.44),
    (2.126, 3.14), (2.133, 3.09), (2.137, 3.24), (2.140, 3.09), (2.145, 3.15),
    (2.117, 2.84), (2.123, 2.84), (2.120, 2.73), (2.123, 2.70), (2.109, 2.57),
    (2.115, 2.28), (2.114, 2.02), (2.103, 1.99), (2.137, 2.39), (2.147, 2.72),
    (2.149, 2.47), (2.155, 2.84), (2.159, 2.82), (2.165, 2.81), (2.171, 2.82),
    (2.167, 2.98), (2.174, 2.98), (2.179, 2.92), (2.184, 2.82), (2.173, 2.26),
    (2.176, 1.88), (2.184, 2.42), (2.189, 2.13), (2.194, 3.02), (2.199, 2.95),
    (2.203, 2.90), (2.214, 2.80), (2.220, 2.91), (2.235, 2.55), (2.240, 2.80),
    (2.246, 2.65), (2.257, 2.54), (2.263, 2.95), (2.266, 2.72), (2.286, 2.72),
    (2.302, 2.03), (2.332, 2.50), (2.333, 1.80), (2.340, 2.79), (2.341, 2.70),
    (2.343, 2.62), (2.363, 2.94), (2.409, 2.20), (2.413, 2.43), (2.409, 3.06),
    (2.472, 2.92), (2.453, 3.21), (2.432, 3.37), (2.431, 3.50), (2.439, 3.40),
    (2.420, 3.31), (2.488, 3.47), (2.490, 3.31), (2.466, 3.68), (2.426, 3.72),
    (2.422, 3.90), (2.430, 4.16), (2.425, 4.37), (2.407, 4.49), (2.386, 4.23),
    (2.384, 3.82), (2.386, 3.95), (2.388, 3.25), (2.370, 3.44), (2.365, 4.14),
    (2.350, 4.29), (2.344, 4.18), (2.350, 3.37), (2.349, 3.14), (2.342, 3.28),
    (2.337, 3.32), (2.333, 3.33), (2.330, 3.39), (2.335, 3.17), (2.323, 3.46),
    (2.323, 3.69), (2.318, 3.69), (2.344, 3.77), (2.328, 4.26), (2.319, 4.25),
    (2.314, 4.34), (2.310, 4.48), (2.309, 4.62), (2.309, 4.73), (2.321, 4.75),
    (2.340, 4.67), (2.372, 4.70), (2.378, 4.75), (2.389, 4.85), (2.360, 5.14),
    (2.342, 5.07), (2.334, 5.11), (2.326, 5.14), (2.314, 5.06), (2.309, 5.27),
    (2.291, 5.33), (2.282, 5.26), (2.327, 5.39), (2.324, 5.49), (2.328, 5.61),
    (2.333, 5.60), (2.340, 5.63), (2.333, 5.71), (2.324, 5.74), (2.317, 5.87),
    (2.316, 5.94), (2.308, 5.82), (2.300, 5.82), (2.294, 5.79), (2.286, 5.75),
    (2.279, 5.82), (2.269, 5.82), (2.278, 5.97), (2.289, 6.01), (2.302, 5.98),
    (2.309, 6.12), (2.345, 5.77), (2.356, 5.90), (2.370, 5.83), (2.382, 5.79),
    (2.384, 5.93), (2.376, 6.04), (2.378, 6.19), (2.351, 6.31), (2.334, 6.26),
    (2.334, 6.37), (2.327, 6.23), (2.320, 6.31), (2.313, 6.37), (2.318, 6.58),
    (2.324, 6.61), (2.335, 6.53), (2.342, 6.53), (2.336, 6.58), (2.321, 6.68),
    (2.308, 6.53), (2.307, 6.65), (2.312, 6.86), (2.312, 6.80), (2.294, 6.91),
    (2.294, 6.80), (2.282, 6.26), (2.281, 6.56), (2.267, 6.75), (2.267, 7.02),
    (2.247, 7.05), (2.249, 6.94), (2.242, 7.02), (2.239, 6.81), (2.238, 6.48),
    (2.223, 6.45), (2.230, 6.37), (2.267, 7.32), (2.284, 7.46), (2.296, 7.56),
    (2.276, 7.76), (2.254, 7.81), (2.251, 7.68), (2.240, 7.78), (2.239, 7.49),
    (2.226, 7.47), (2.230, 7.41), (2.216, 7.57), (2.212, 7.51), (2.210, 7.85),
    (2.224, 7.81), (2.224, 7.65), (2.214, 7.21), (2.218, 7.21), (2.245, 8.04),
    (2.253, 8.05), (2.314, 8.05), (2.310, 7.89), (2.317, 7.71), (2.332, 7.42),
    (2.340, 7.62), (2.342, 7.49), (2.335, 7.24), (2.330, 6.99), (2.351, 7.27),
    (2.356, 7.02), (2.360, 7.73), (2.370, 7.36), (2.373, 7.96), (2.380, 7.73),
    (2.385, 7.94), (2.374, 7.56), (2.385, 7.53), (2.387, 7.08), (2.389, 6.89),
    (2.383, 6.80), (2.391, 6.67), (2.393, 6.68), (2.398, 6.53), (2.400, 6.75),
    (2.402, 6.41), (2.396, 6.28), (2.406, 6.17), (2.384, 6.50), (2.390, 6.53),
    (2.372, 6.91), (2.362, 6.50), (2.425, 7.89), (2.432, 7.74), (2.439, 7.73),
    (2.445, 7.85), (2.427, 7.47), (2.443, 7.51), (2.460, 7.79), (2.457, 7.65),
    (2.460, 7.60), (2.469, 7.54), (2.474, 7.57), (2.480, 7.60), (2.484, 7.72),
    (2.485, 7.47), (2.467, 7.32), (2.471, 7.30), (2.493, 7.30), (2.489, 7.11),
    (2.455, 7.10), (2.459, 6.97), (2.426, 7.08), (2.451, 6.65), (2.489, 6.45),
    (2.499, 6.65), (2.480, 6.31), (2.455, 6.27), (2.471, 6.16), (2.475, 6.05),
    (2.469, 5.98), (2.493, 6.26), (2.452, 6.01), (2.455, 5.86), (2.426, 6.12),
    (2.431, 6.08), (2.438, 6.07), (2.442, 6.16), (2.422, 5.79), (2.430, 5.82),
    (2.434, 5.79), (2.445, 5.72), (2.459, 5.61), (2.493, 5.66), (2.429, 5.43),
    (2.460, 5.36), (2.470, 5.28), (2.478, 5.22), (2.435, 5.24), (2.427, 5.19),
    (2.458, 5.11), (2.461, 4.96), (2.466, 4.89), (2.431, 4.80), (2.437, 4.73),
    (2.441, 4.62), (2.446, 4.75), (2.448, 4.67), (2.489, 4.60), (2.499, 5.07),
    (2.386, 5.22),
]

STAR_COLOR = "orange"
EARTH_COLOR = "blue"
MARS_COLOR = "red"
VENUS_COLOR = "green"
EDGE = "gray"


def main():
    fig = plt.figure(figsize=(10.94, 7.815), dpi=200)
    ax = fig.add_axes([0.1569, 0.1203, 0.7715, 0.7805])

    # background particles
    bg = np.array(bg_upper_left + bg_upper_right + bg_lower_left + bg_lower_right)
    ax.plot(bg[:, 0], bg[:, 1], "h", ms=3.4, mfc="#c0c0c0", mec="#7a7a7a",
            mew=0.7, alpha=0.5, zorder=1)

    star = np.array(star_pts)
    ax.plot(star[:, 0], star[:, 1], "h", ms=9.5, mfc=STAR_COLOR, mec=EDGE,
            mew=1.0, zorder=3)
    earth = np.array(earth_pts)
    ax.plot(earth[:, 0], earth[:, 1], "h", ms=8.5, mfc=EARTH_COLOR, mec=EDGE,
            mew=1.0, zorder=4)
    mars = np.array(mars_pts)
    ax.plot(mars[:, 0], mars[:, 1], "h", ms=7.5, mfc=MARS_COLOR, mec=EDGE,
            mew=0.6, zorder=5)

    # colour-coded labels
    for txt, col, y in [("Star", STAR_COLOR, 17.45), ("Venus", VENUS_COLOR, 16.42),
                        ("Earth", EARTH_COLOR, 15.39), ("Mars", MARS_COLOR, 14.36)]:
        ax.text(1.746, y, txt, color=col, fontsize=24, va="baseline", ha="left")

    ax.set_xlim(1.7, 2.5)
    ax.set_ylim(0, 20)
    ax.xaxis.set_major_locator(MultipleLocator(0.2))
    ax.xaxis.set_minor_locator(MultipleLocator(0.05))
    ax.xaxis.set_major_formatter(FormatStrFormatter("%.1f"))
    ax.yaxis.set_major_locator(MultipleLocator(5))
    ax.yaxis.set_minor_locator(MultipleLocator(1))

    ax.tick_params(which="both", direction="in", top=True, right=True, width=1.0)
    ax.tick_params(axis="x", which="major", length=25, pad=8, labelsize=24)
    ax.tick_params(axis="x", which="minor", length=12.6)
    ax.tick_params(axis="y", which="major", length=18.4, pad=13, labelsize=24)
    ax.tick_params(axis="y", which="minor", length=9.7)
    for sp in ax.spines.values():
        sp.set_linewidth(1.0)

    ax.set_xlabel("semi-major axis [au]", fontsize=24, labelpad=3)
    ax.set_ylabel("inclination [deg]", fontsize=24, labelpad=11)
    ax.set_title(r"run6: v = 7v$_{\mathrm{esc}}$, $\theta$= 45°", fontsize=24, pad=18)

    fig.savefig("out.png", dpi=200)


if __name__ == "__main__":
    main()
